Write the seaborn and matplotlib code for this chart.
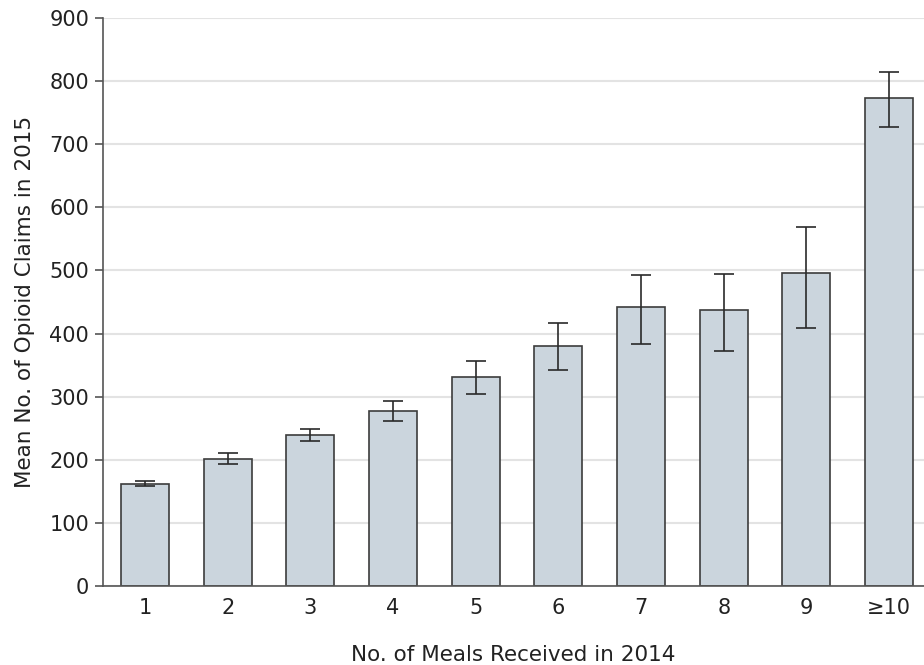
import pandas as pd
import matplotlib
matplotlib.use("Agg")
import matplotlib.pyplot as plt
import seaborn as sns

# datos
meals = ["1", "2", "3", "4", "5", "6", "7", "8", "9", "≥10"]
mean_claims = [162, 202, 239, 277, 331, 380, 442, 437, 496, 773]
ci_low = [158, 194, 230, 261, 304, 342, 383, 372, 409, 727]
ci_high = [167, 210, 248, 293, 357, 417, 493, 494, 569, 814]

df = pd.DataFrame({"meals": meals, "claims": mean_claims})

sns.set_style("white")
plt.rcParams["font.family"] = ["DejaVu Sans"]

fig = plt.figure(figsize=(9.24, 6.65), dpi=100)
ax = fig.add_axes([103 / 924, 79 / 665, 821 / 924, 568 / 665])

ax.yaxis.grid(True, color="#e3e3e3", linewidth=1.5)
ax.set_axisbelow(True)

sns.barplot(data=df, x="meals", y="claims", order=meals, color="#cbd5dd",
            edgecolor="#3c3c3c", linewidth=1.2, width=0.58, saturation=1,
            errorbar=None, ax=ax)

err_lo = [m - l for m, l in zip(mean_claims, ci_low)]
err_hi = [h - m for m, h in zip(mean_claims, ci_high)]
ax.errorbar(range(len(meals)), mean_claims, yerr=[err_lo, err_hi], fmt="none",
            ecolor="#2a2a2a", elinewidth=1.2, capsize=7, capthick=1.2)

ax.set_xlim(-0.508, 9.423)
ax.set_ylim(0, 900)
ax.set_yticks(range(0, 901, 100))

for s in ["top", "right"]:
    ax.spines[s].set_visible(False)
for s in ["left", "bottom"]:
    ax.spines[s].set_color("#555555")
    ax.spines[s].set_linewidth(1.2)

ax.tick_params(axis="y", length=6, width=1.2, color="#555555", labelsize=15,
               labelcolor="#222222", pad=4, left=True)
ax.tick_params(axis="x", length=0, labelsize=15, labelcolor="#222222", pad=9)

ax.set_xlabel("No. of Meals Received in 2014", fontsize=15.5, color="#222222", labelpad=19)
ax.set_ylabel("Mean No. of Opioid Claims in 2015", fontsize=15.5, color="#222222", labelpad=10)

fig.savefig("out.png", dpi=100)
